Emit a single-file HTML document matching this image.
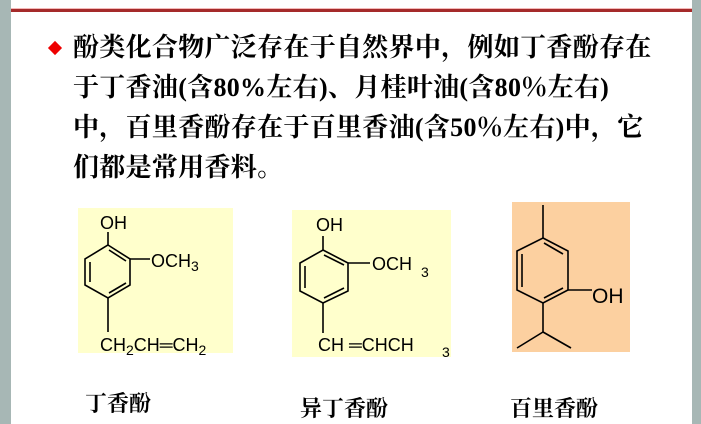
<!DOCTYPE html>
<html><head><meta charset="utf-8"><style>
html,body{margin:0;padding:0;}
body{width:701px;height:424px;position:relative;background:#fff;overflow:hidden;}
.gl{position:absolute;left:0;top:0;width:11px;height:424px;background:#a7b7b5;}
.gr{position:absolute;left:692px;top:0;width:9px;height:424px;background:#a7b7b5;}
.rl{position:absolute;left:11px;top:8px;width:681px;height:3px;background:#a52a2a;border-top:1px solid #f4b8b8;}
.t{position:absolute;left:73px;font-family:"Liberation Serif","Noto Serif CJK SC",serif;font-weight:bold;font-size:26px;letter-spacing:0.3px;color:#000;white-space:nowrap;line-height:30px;}
.lab{position:absolute;font-family:"Liberation Serif","Noto Serif CJK SC",serif;font-weight:bold;font-size:22px;white-space:nowrap;}
</style></head><body>
<div class="gl"></div><div class="gr"></div><div class="rl"></div>
<div style="position:absolute;left:50px;top:43px;width:10px;height:10px;background:#e00;transform:rotate(45deg);"></div>
<div class="t" style="top:33px">酚类化合物广泛存在于自然界中，例如丁香酚存在</div>
<div class="t" style="top:73px">于丁香油(含80%左右)、月桂叶油(含80％左右)</div>
<div class="t" style="top:113px">中，百里香酚存在于百里香油(含50％左右)中，它</div>
<div class="t" style="top:153px">们都是常用香料。</div>
<svg width="701" height="424" style="position:absolute;left:0;top:0" font-family="Liberation Sans, sans-serif">
<rect x="78" y="208" width="155" height="145" fill="#ffffcc"/>
<rect x="292" y="210" width="159" height="147" fill="#ffffcc"/>
<rect x="512" y="202" width="118" height="150" fill="#fcd0a0"/>
<g stroke="#000" stroke-width="1.6" fill="none">
<polygon points="108,245 130,259 130,285 108,298 85,285 85,259"/>
<line x1="108" y1="245" x2="108" y2="232"/><line x1="130" y1="259" x2="150" y2="259"/>
<line x1="108" y1="298" x2="108" y2="332"/>
<line x1="90" y1="262" x2="90" y2="282"/><line x1="109" y1="250" x2="126" y2="261"/><line x1="109" y1="293" x2="126" y2="283"/>
<polygon points="323,250 348,263 348,291 323,303 300,291 300,263"/>
<line x1="323" y1="250" x2="323" y2="236"/><line x1="348" y1="263" x2="370" y2="263"/>
<line x1="323" y1="303" x2="323" y2="333"/>
<line x1="305" y1="266" x2="305" y2="288"/><line x1="324" y1="255" x2="344" y2="265"/><line x1="324" y1="298" x2="344" y2="288"/>
<polygon points="543,238 568,251 568,290 543,303 517,290 517,251"/>
<line x1="543" y1="238" x2="543" y2="205"/><line x1="568" y1="290" x2="592" y2="290"/>
<line x1="543" y1="303" x2="543" y2="332"/><line x1="543" y1="332" x2="517" y2="348"/><line x1="543" y1="332" x2="571" y2="348"/>
<line x1="522" y1="254" x2="522" y2="287"/><line x1="544" y1="243" x2="563" y2="254"/><line x1="544" y1="298" x2="563" y2="288"/>
</g>
<g font-size="18" fill="#000">
<text x="100" y="229">OH</text>
<text x="151" y="267">OCH<tspan font-size="14" dy="4">3</tspan></text>
<text x="100" y="351">CH<tspan font-size="14" dy="4">2</tspan><tspan dy="-4">CH═CH</tspan><tspan font-size="14" dy="4">2</tspan></text>
<text x="316" y="231">OH</text>
<text x="372" y="270">OCH</text><text x="421" y="277" font-size="14">3</text>
<text x="318" y="351">CH ═CHCH</text><text x="442" y="357" font-size="14">3</text>
<text x="592" y="303" font-size="21">OH</text>
</g>
</svg>
<div class="lab" style="left:85px;top:387px">丁香酚</div>
<div class="lab" style="left:300px;top:392px">异丁香酚</div>
<div class="lab" style="left:510px;top:392px">百里香酚</div>
</body></html>
